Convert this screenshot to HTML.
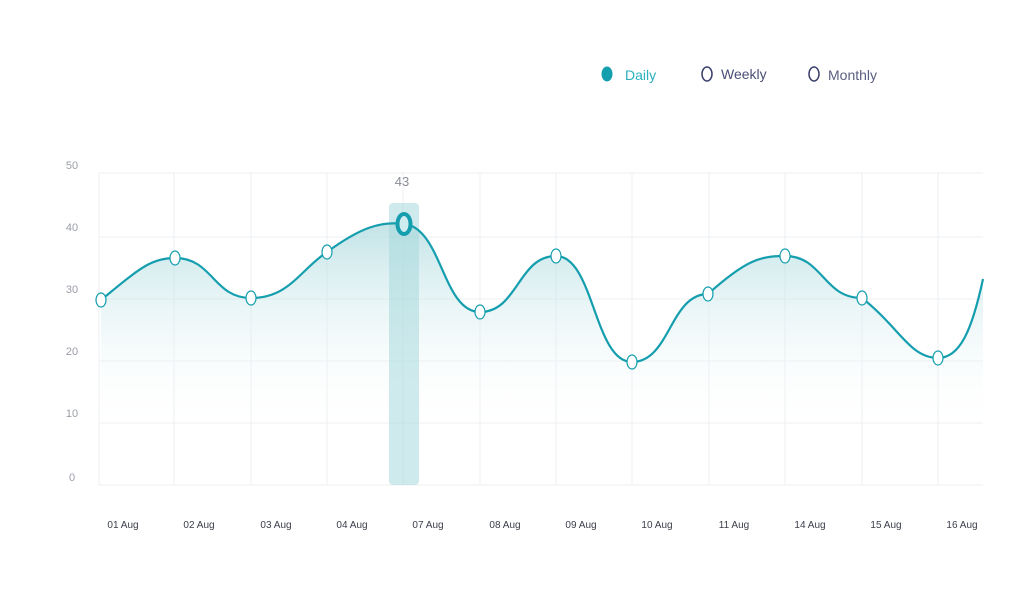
<!DOCTYPE html>
<html><head><meta charset="utf-8"><style>
body{margin:0;background:#fff;}
svg{display:block;font-family:"Liberation Sans",sans-serif;}
</style></head><body>
<svg width="1025" height="603" viewBox="0 0 1025 603">
<defs>
<linearGradient id="g" gradientUnits="userSpaceOnUse" x1="0" y1="215" x2="0" y2="430">
<stop offset="0" stop-color="#a8d8dd" stop-opacity="0.75"/>
<stop offset="1" stop-color="#ffffff" stop-opacity="0"/>
</linearGradient>
</defs>
<ellipse cx="607" cy="74" rx="5.5" ry="7.5" fill="#159eae"/>
<text x="625" y="80" font-size="14" fill="#2ab0bf">Daily</text>
<ellipse cx="707" cy="74" rx="5" ry="7" fill="none" stroke="#3a3f6b" stroke-width="1.5"/>
<text x="721" y="79" font-size="14" fill="#4a4e75">Weekly</text>
<ellipse cx="814" cy="74" rx="5" ry="7" fill="none" stroke="#3a3f6b" stroke-width="1.5"/>
<text x="828" y="80" font-size="14" fill="#5a5e80">Monthly</text>
<g stroke="#eeeff2" stroke-width="1">
<line x1="99" y1="173" x2="983" y2="173"/><line x1="99" y1="237" x2="983" y2="237"/>
<line x1="99" y1="299" x2="983" y2="299"/><line x1="99" y1="361" x2="983" y2="361"/>
<line x1="99" y1="423" x2="983" y2="423"/><line x1="99" y1="485" x2="983" y2="485"/>
<line x1="99" y1="173" x2="99" y2="485"/><line x1="174" y1="173" x2="174" y2="485"/>
<line x1="251" y1="173" x2="251" y2="485"/><line x1="327" y1="173" x2="327" y2="485"/>
<line x1="403" y1="173" x2="403" y2="485"/><line x1="480" y1="173" x2="480" y2="485"/>
<line x1="556" y1="173" x2="556" y2="485"/><line x1="632" y1="173" x2="632" y2="485"/>
<line x1="709" y1="173" x2="709" y2="485"/><line x1="785" y1="173" x2="785" y2="485"/>
<line x1="862" y1="173" x2="862" y2="485"/><line x1="938" y1="173" x2="938" y2="485"/>
</g>
<g font-size="11" fill="#9a9da8" text-anchor="middle">
<text x="72" y="169">50</text><text x="72" y="231">40</text><text x="72" y="293">30</text>
<text x="72" y="355">20</text><text x="72" y="417">10</text><text x="72" y="481">0</text>
</g>
<g font-size="10" fill="#3a3d4a" text-anchor="middle">
<text x="123" y="528">01 Aug</text><text x="199" y="528">02 Aug</text><text x="276" y="528">03 Aug</text>
<text x="352" y="528">04 Aug</text><text x="428" y="528">07 Aug</text><text x="505" y="528">08 Aug</text>
<text x="581" y="528">09 Aug</text><text x="657" y="528">10 Aug</text><text x="734" y="528">11 Aug</text>
<text x="810" y="528">14 Aug</text><text x="886" y="528">15 Aug</text><text x="962" y="528">16 Aug</text>
</g>
<path d="M101,300 C138,270 150,258 175,258 C213,258 213,298 251,298 C289,298 300,270 327,252 C360,228 380,221 403,224 C442,226 442,312 480,312 C518,312 518,256 556,256 C594,256 594,362 632,362 C670,362 670,294 708,294 C746,260 760,256 785,256 C823,256 823,298 862,298 C900,328 910,358 938,358 C960,358 972,330 983,279 L983,485 L101,485 Z" fill="url(#g)"/>
<rect x="389" y="203" width="30" height="282" rx="4" fill="#a8d8dd" opacity="0.55"/>
<path d="M101,300 C138,270 150,258 175,258 C213,258 213,298 251,298 C289,298 300,270 327,252 C360,228 380,221 403,224 C442,226 442,312 480,312 C518,312 518,256 556,256 C594,256 594,362 632,362 C670,362 670,294 708,294 C746,260 760,256 785,256 C823,256 823,298 862,298 C900,328 910,358 938,358 C960,358 972,330 983,279" fill="none" stroke="#159eae" stroke-width="2.2"/>
<g fill="#fff" stroke="#159eae" stroke-width="1.2">
<ellipse cx="101" cy="300" rx="5" ry="7"/><ellipse cx="175" cy="258" rx="5" ry="7"/>
<ellipse cx="251" cy="298" rx="5" ry="7"/><ellipse cx="327" cy="252" rx="5" ry="7"/>
<ellipse cx="480" cy="312" rx="5" ry="7"/><ellipse cx="556" cy="256" rx="5" ry="7"/>
<ellipse cx="632" cy="362" rx="5" ry="7"/><ellipse cx="708" cy="294" rx="5" ry="7"/>
<ellipse cx="785" cy="256" rx="5" ry="7"/><ellipse cx="862" cy="298" rx="5" ry="7"/>
<ellipse cx="938" cy="358" rx="5" ry="7"/>
</g>
<ellipse cx="404" cy="224" rx="6.5" ry="10" fill="#cfecef" stroke="#159eae" stroke-width="4"/>
<text x="402" y="186" font-size="13" fill="#8a8d96" text-anchor="middle">43</text>
</svg>
</body></html>
